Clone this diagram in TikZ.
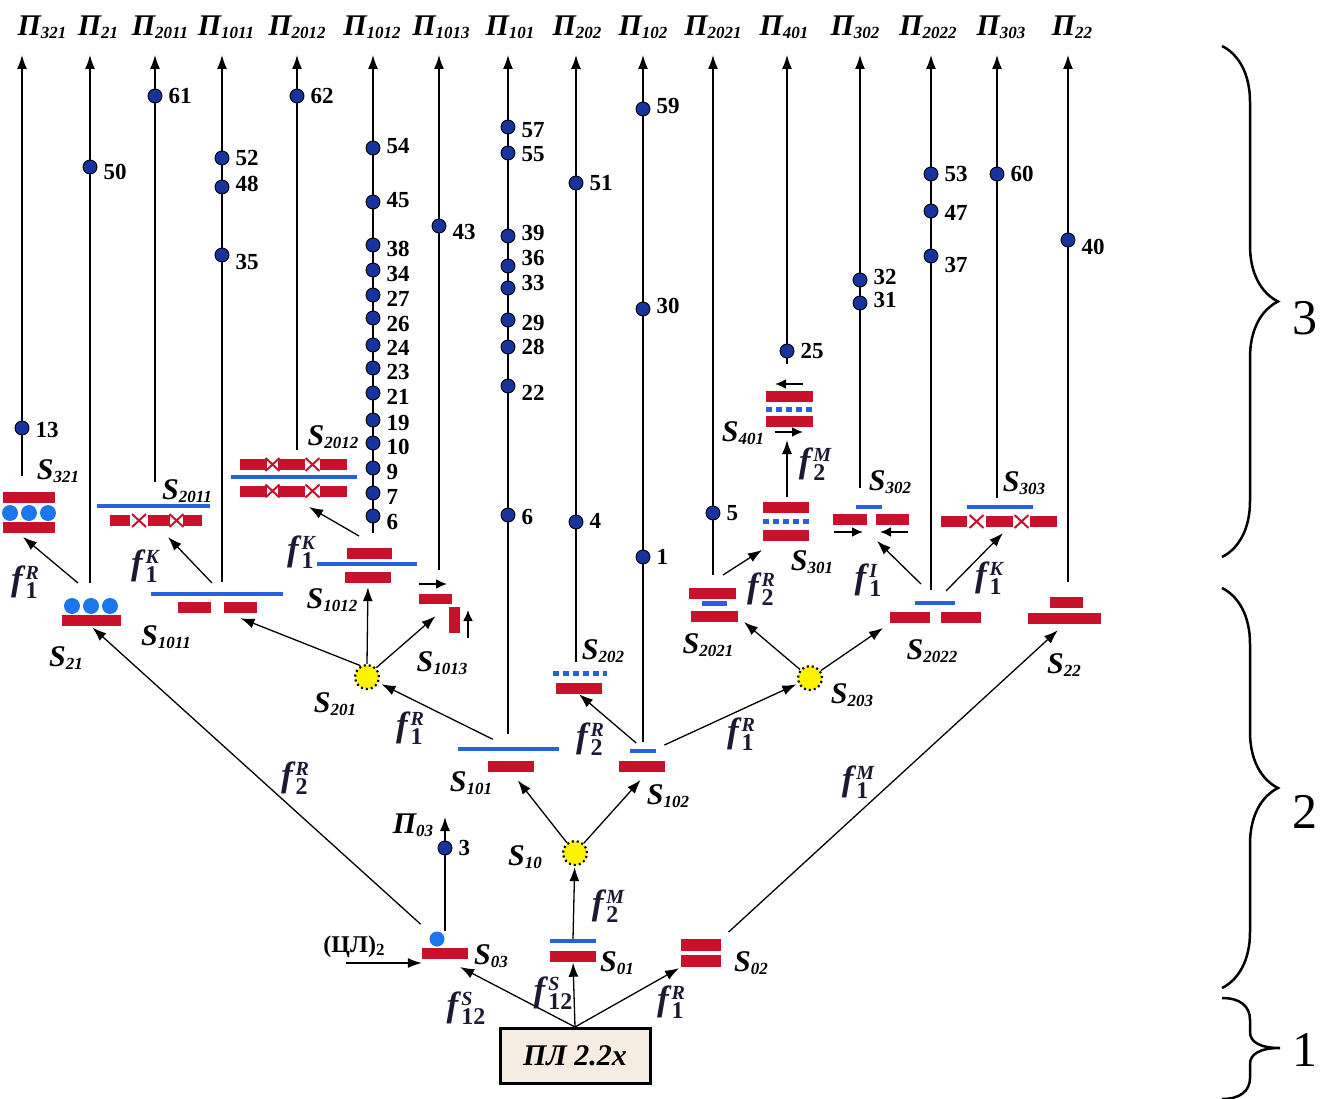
\documentclass[tikz,border=0pt]{standalone}
\usepackage{fontspec}
\setmainfont{Liberation Serif}
\usepackage{tikz}
\usetikzlibrary{positioning, calc, arrows.meta, decorations.pathreplacing}

\definecolor{barred}{RGB}{200,18,44}
\definecolor{lineblue}{RGB}{38,98,222}
\definecolor{dotblue}{RGB}{22,52,158}
\definecolor{ballblue}{RGB}{28,118,236}
\definecolor{sunyellow}{RGB}{255,243,0}
\definecolor{plfill}{RGB}{246,236,226}
\definecolor{fink}{RGB}{30,24,50}

\newcommand{\subfnt}{\fontsize{17}{17}\selectfont\bfseries\itshape}
\newcommand{\sname}[2]{#1\raisebox{-3pt}{\subfnt #2}}
\newcommand{\fmark}[2]{f\kern3pt\raisebox{-8pt}{\shortstack[l]{\fontsize{20}{20}\selectfont\bfseries\itshape #2\\\fontsize{24}{24}\selectfont\bfseries\upshape #1}}}

\tikzset{
  rbar/.style={fill=barred, inner sep=0pt, minimum height=11pt},
  bline/.style={fill=lineblue, inner sep=0pt, minimum height=4pt},
  bdots/.style={draw=lineblue, line width=5pt, dash pattern=on 6pt off 4pt},
  rcross/.style={draw=barred, line width=2pt},
  xmark/.pic={\draw[rcross] (-7,-6.5) -- (7,6.5) (-7,6.5) -- (7,-6.5);},
  ball/.style={circle, fill=ballblue, inner sep=0pt, minimum size=16pt},
  sun/.style={circle, fill=sunyellow, draw=black, line width=2.2pt, dash pattern=on 2pt off 3pt, inner sep=0pt, minimum size=24pt},
  dotpt/.style={circle, fill=dotblue, draw=black, line width=0.9pt, inner sep=0pt, minimum size=14pt},
  num/.style={font=\fontsize{23}{23}\selectfont\bfseries, inner sep=1pt},
  plab/.style={font=\fontsize{30}{30}\selectfont\bfseries\itshape, inner sep=1pt},
  slab/.style={font=\fontsize{30}{30}\selectfont\bfseries\itshape, inner sep=1pt},
  flab/.style={font=\fontsize{35}{35}\selectfont\bfseries\itshape, text=fink, inner sep=1pt},
  wire/.style={line width=1.3pt},
  arr/.style={wire, -{Latex[length=14pt, width=10pt]}},
  smallarr/.style={line width=2pt, -{Latex[length=11pt, width=10pt]}},
  levelbrace/.style={decorate, decoration={brace, amplitude=56pt}, line width=2.5pt},
  lvnum/.style={font=\fontsize{50}{50}\selectfont, inner sep=0pt},
}

\begin{document}
\begin{tikzpicture}[x=1pt, y=-1pt]
    \useasboundingbox (0,0) rectangle (1328,1099);

    % Level 1: source box
    \node[draw, line width=3pt, fill=plfill, minimum width=150pt, minimum height=55pt, inner sep=0pt,
          font=\fontsize{30}{30}\selectfont\bfseries\itshape] (pl) at (575,1056) {ПЛ 2.2x};

    % Level 2 states
    \node[rbar, minimum width=46pt] (s03) at (445,953.5) {};
    \node[ball, minimum size=15pt] (s03ball) at (437,939) {};
    \node[bline, minimum width=46pt] (s01b) at (573,941) {};
    \node[rbar, minimum width=46pt] (s01r) at (573,956) {};
    \node[rbar, minimum width=40pt, minimum height=12pt] (s02t) at (701,945) {};
    \node[rbar, minimum width=40pt, minimum height=12pt] (s02b) at (701,961) {};
    \node[sun] (s10) at (575,853) {};
    \node[bline, minimum width=101pt] (s101b) at (508,749) {};
    \node[rbar, minimum width=46pt] (s101r) at (511,766) {};
    \node[bline, minimum width=26pt] (s102b) at (643,751) {};
    \node[rbar, minimum width=46pt] (s102r) at (642,766) {};
    \node[sun] (s201) at (367,677) {};
    \draw[bdots] (553,673) -- (607,673);
    \node[rbar, minimum width=46pt] (s202r) at (579,688.5) {};
    \node[sun] (s203) at (810,678) {};
    \node[rbar, minimum width=59pt] (s21r) at (91,620.5) {};
    \node[ball] (s21a) at (72,606) {};
    \node[ball] (s21b) at (91,606) {};
    \node[ball] (s21c) at (110,606) {};
    \node[bline, minimum width=132pt] (s1011b) at (217,594) {};
    \node[rbar, minimum width=33pt] (s1011r1) at (194.5,607.5) {};
    \node[rbar, minimum width=33pt] (s1011r2) at (240.5,607.5) {};
    \node[rbar, minimum width=45pt] (s1012r1) at (369.5,553.5) {};
    \node[bline, minimum width=100pt] (s1012b) at (367,564) {};
    \node[rbar, minimum width=46pt] (s1012r2) at (368,577.5) {};
    \draw[smallarr] (419,584) -- (447,584);
    \node[rbar, minimum width=33pt, minimum height=10pt] (s1013h) at (435.5,599) {};
    \node[rbar, minimum width=11pt, minimum height=26pt] (s1013v) at (454.5,620) {};
    \draw[smallarr] (468,638) -- (468,610);
    \node[rbar, minimum width=47pt] (s2021r1) at (712.5,593) {};
    \node[bline, minimum width=25pt, minimum height=5pt] (s2021b) at (714.5,603.5) {};
    \node[rbar, minimum width=47pt] (s2021r2) at (714.5,616.5) {};
    \node[bline, minimum width=40pt] (s2022b) at (935,603) {};
    \node[rbar, minimum width=40pt] (s2022r1) at (910,617) {};
    \node[rbar, minimum width=40pt] (s2022r2) at (961,617) {};
    \node[rbar, minimum width=33pt] (s22t) at (1066.5,602) {};
    \node[rbar, minimum width=73pt] (s22b) at (1064.5,618.5) {};

    % Level 3 states
    \node[rbar, minimum width=52pt] (s321r1) at (29,497.5) {};
    \node[ball] (s321a) at (10,513) {};
    \node[ball] (s321b) at (29,513) {};
    \node[ball] (s321c) at (48,513) {};
    \node[rbar, minimum width=52pt] (s321r2) at (29,527.5) {};
    \node[bline, minimum width=113pt] (s2011b) at (153.5,506) {};
    \node[rbar, minimum width=20pt] (s2011r1) at (120,520.5) {};
    \node[rbar, minimum width=22pt] (s2011r2) at (159,520.5) {};
    \node[rbar, minimum width=19pt] (s2011r3) at (192.5,520.5) {};
    \pic at (139,520.5) {xmark};
    \pic at (176.5,520.5) {xmark};
    \foreach \yy/\r in {464.5/t, 491/b}{
      \node[rbar, minimum width=27pt] (s2012\r1) at (253.5,\yy) {};
      \node[rbar, minimum width=27pt] (s2012\r2) at (291.5,\yy) {};
      \node[rbar, minimum width=27pt] (s2012\r3) at (333.5,\yy) {};
      \pic at (272.5,\yy) {xmark};
      \pic at (312.5,\yy) {xmark};
    }
    \node[bline, minimum width=126pt] (s2012b) at (294,477) {};
    \node[rbar, minimum width=46pt] (s301t) at (786,507.5) {};
    \draw[bdots] (763,521) -- (809,521);
    \node[rbar, minimum width=46pt] (s301b) at (786,535) {};
    \draw[smallarr] (803,384) -- (775,384);
    \node[rbar, minimum width=47pt] (s401t) at (789.5,396.5) {};
    \draw[bdots] (766,409) -- (813,409);
    \node[rbar, minimum width=47pt] (s401b) at (789.5,421.5) {};
    \draw[smallarr] (775,432) -- (803,432);
    \node[bline, minimum width=26pt] (s302b) at (869,507) {};
    \node[rbar, minimum width=34pt] (s302r1) at (850,519.5) {};
    \node[rbar, minimum width=33pt] (s302r2) at (892.5,519.5) {};
    \draw[smallarr] (834,532) -- (863,532);
    \draw[smallarr] (908,532) -- (880,532);
    \node[bline, minimum width=66pt] (s303b) at (1000,507) {};
    \node[rbar, minimum width=26pt] (s303r1) at (954,521.5) {};
    \node[rbar, minimum width=27pt] (s303r2) at (999.5,521.5) {};
    \node[rbar, minimum width=27pt] (s303r3) at (1043.5,521.5) {};
    \pic at (976.5,521.5) {xmark};
    \pic at (1021.5,521.5) {xmark};

    % Output columns with arrow tips and labels
    \foreach \col/\x/\lx/\yb in {321/22/42/476, 21/90/98/583, 2011/155/160/482, 1011/222/226/582,
        2012/297/297/450, 1012/373/372/533, 1013/439/441/570, 101/508/510/734, 202/576/577/662,
        102/643/643/742, 2021/713/713/575, 401/787/784/364, 302/860/855/488, 2022/931/928/590,
        303/997/1001/498, 22/1068/1072/582}{
      \coordinate (t\col) at (\x,55);
      \coordinate (b\col) at (\x,\yb);
      \node[plab, anchor=base] (P\col) at (\lx,36) {\sname{П}{\col}};
      \draw[arr] (b\col) -- (t\col);
    }
    \coordinate (t03) at (445,817);
    \draw[arr] (t03 |- s03ball.north) -- (t03);
    \node[plab] (P03) at (413,825) {\sname{П}{03}};

    % Event dots on the columns
    \foreach \col/\x/\y/\n/\dy in {321/22/428/13/2, 21/90/167/50/5, 2011/155/96/61/0,
        1011/222/158/52/0, 1011/222/187/48/-3, 1011/222/255/35/7, 2012/297/96/62/0,
        1012/373/148/54/-2, 1012/373/202/45/-2, 1012/373/245/38/4, 1012/373/270/34/4,
        1012/373/295/27/4, 1012/373/318/26/6, 1012/373/345/24/3, 1012/373/368/23/4,
        1012/373/393/21/4, 1012/373/420/19/3, 1012/373/443/10/4, 1012/373/468/9/4,
        1012/373/493/7/4, 1012/373/516/6/6, 1013/439/226/43/6,
        101/508/127/57/3, 101/508/153/55/1, 101/508/236/39/-3, 101/508/266/36/-8,
        101/508/288/33/-5, 101/508/320/29/3, 101/508/347/28/0, 101/508/386/22/7,
        101/508/515/6/2, 202/576/183/51/0, 202/576/522/4/-1, 102/643/109/59/-3,
        102/643/309/30/-3, 102/643/557/1/0, 2021/713/513/5/0, 401/787/351/25/0,
        302/860/280/32/-3, 302/860/303/31/-3, 2022/931/174/53/0, 2022/931/211/47/2,
        2022/931/256/37/9, 303/997/174/60/0, 22/1068/240/40/7, 03/445/848/3/0}{
      \node[dotpt] (d\col-\n) at (\x,\y) {};
      \node[num, right=5pt of d\col-\n, yshift={-1pt*(\dy)}] (n\col-\n) {\n};
    }

    % Free ends of the branch arrows
    \coordinate (o21) at (78,583);      \coordinate (i321) at (23,537);
    \coordinate (o1011) at (212,583);   \coordinate (i2011) at (168,537);
    \coordinate (o1012) at (359,536);   \coordinate (i2012) at (309,507);
    \coordinate (o2021) at (723,575);   \coordinate (i301) at (762,550);
    \coordinate (o301) at (787,497);    \coordinate (i401) at (787,440);
    \coordinate (o2022a) at (921,584);  \coordinate (i302) at (877,541);
    \coordinate (o2022b) at (946,591);  \coordinate (i303) at (1003,533);
    \coordinate (i2021) at (744,622);   \coordinate (i2022) at (883,628);
    \coordinate (clin) at (346,963);

    % Transitions from the source
    \draw[arr, shorten >=17pt] (pl.north) -- (s03.south);
    \draw[arr, shorten >=1pt] (pl.north) -- (s01r.south);
    \draw[arr, shorten >=2pt] (pl.north) -- (s02b.south west);
    \draw[arr] (clin) -- (clin -| s03.west);

    % Transitions inside level 2
    \draw[arr, shorten >=1pt] (s01b.north) -- (s10);
    \draw[arr, shorten >=11pt] (s10) -- (s101r.south);
    \draw[arr, shorten >=11pt] (s10) -- ([xshift=6pt]s102r.south);
    \draw[arr, shorten <=17pt, shorten >=3pt] (s101b.north) -- (s201);
    \draw[arr, shorten <=9pt] (s102b.north) -- (s202r.south);
    \draw[arr, shorten <=9pt, shorten >=2pt] (s102b.north east) -- (s203);
    \draw[arr, shorten <=22pt, shorten >=2pt] (s03ball.center) -- (s21r.south);
    \draw[arr, shorten <=10pt, shorten >=9pt] (s02t.north east) -- (s22b.south);
    \draw[arr] (s201.120) -- ([yshift=-5pt]s1011r2.south);
    \draw[arr, shorten >=4pt] (s201.north) -- (s1012r2.south);
    \draw[arr] (s201.45) -- ([yshift=-12pt]s1013h.south);
    \draw[arr] (s203) -- (i2021);
    \draw[arr] (s203) -- (i2022);

    % Transitions into level 3
    \draw[arr] (o21) -- (i321);
    \draw[arr] (o1011) -- (i2011);
    \draw[arr] (o1012) -- (i2012);
    \draw[arr] (o2021) -- (i301);
    \draw[arr] (o301) -- (i401);
    \draw[arr] (o2022a) -- (i302);
    \draw[arr] (o2022b) -- (i303);

    % State labels
    \node[slab] (S03) at (491,956) {\sname{S}{03}};
    \node[slab] (S01) at (617,963) {\sname{S}{01}};
    \node[slab] (S02) at (751,963) {\sname{S}{02}};
    \node[slab] (S10) at (525,857) {\sname{S}{10}};
    \node[slab] (S101) at (471,783) {\sname{S}{101}};
    \node[slab] (S102) at (668,796) {\sname{S}{102}};
    \node[slab] (S201) at (335,704) {\sname{S}{201}};
    \node[slab] (S202) at (603,651) {\sname{S}{202}};
    \node[slab] (S203) at (852,695) {\sname{S}{203}};
    \node[slab] (S21) at (66,658) {\sname{S}{21}};
    \node[slab] (S1011) at (166,637) {\sname{S}{1011}};
    \node[slab] (S1012) at (332,600) {\sname{S}{1012}};
    \node[slab] (S1013) at (442,663) {\sname{S}{1013}};
    \node[slab] (S2021) at (708,645) {\sname{S}{2021}};
    \node[slab] (S2022) at (932,651) {\sname{S}{2022}};
    \node[slab] (S22) at (1064,665) {\sname{S}{22}};
    \node[slab] (S321) at (58,471) {\sname{S}{321}};
    \node[slab] (S2011) at (187,491) {\sname{S}{2011}};
    \node[slab] (S2012) at (333,437) {\sname{S}{2012}};
    \node[slab] (S301) at (812,562) {\sname{S}{301}};
    \node[slab] (S401) at (743,433) {\sname{S}{401}};
    \node[slab] (S302) at (890,482) {\sname{S}{302}};
    \node[slab] (S303) at (1024,483) {\sname{S}{303}};
    \node[font=\fontsize{24}{24}\selectfont\bfseries, inner sep=1pt] (cl) at (354,947)
        {(ЦЛ)\raisebox{-3pt}{\fontsize{17}{17}\selectfont 2}};

    % Operator labels
    \node[flab] (f21) at (25,582) {\fmark{1}{R}};
    \node[flab] (f1011) at (145,566) {\fmark{1}{K}};
    \node[flab] (f1012) at (301,552) {\fmark{1}{K}};
    \node[flab] (f101) at (410,728) {\fmark{1}{R}};
    \node[flab] (f102a) at (590,739) {\fmark{2}{R}};
    \node[flab] (f102b) at (741,734) {\fmark{1}{R}};
    \node[flab] (f03) at (295,778) {\fmark{2}{R}};
    \node[flab] (f02) at (858,782) {\fmark{1}{M}};
    \node[flab] (f01) at (608,906) {\fmark{2}{M}};
    \node[flab] (fpl1) at (466,1008) {\fmark{12}{S}};
    \node[flab] (fpl2) at (553,993) {\fmark{12}{S}};
    \node[flab] (fpl3) at (671,1002) {\fmark{1}{R}};
    \node[flab] (f2021) at (761,589) {\fmark{2}{R}};
    \node[flab] (f301) at (815,464) {\fmark{2}{M}};
    \node[flab] (f2022a) at (868,580) {\fmark{1}{I}};
    \node[flab] (f2022b) at (989,578) {\fmark{1}{K}};

    % Level braces
    \draw[levelbrace] (1222,46) -- (1222,557);
    \node[lvnum] (lv3) at (1305,318) {3};
    \draw[levelbrace] (1222,588) -- (1222,988);
    \node[lvnum] (lv2) at (1305,812) {2};
    \draw[line width=2.5pt] (1222,998) .. controls (1240,998) and (1250,1006) .. (1250,1020)
        -- (1250,1032) .. controls (1250,1042) and (1260,1048) .. (1280,1048)
        .. controls (1260,1048) and (1250,1054) .. (1250,1064)
        -- (1250,1078) .. controls (1250,1091) and (1240,1099) .. (1222,1099);
    \node[lvnum] (lv1) at (1305,1050) {1};

\end{tikzpicture}
\end{document}
